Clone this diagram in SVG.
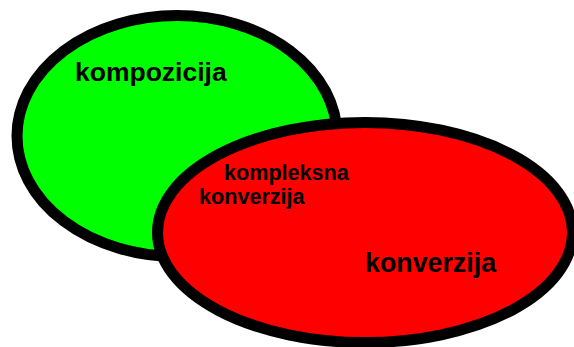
<svg xmlns="http://www.w3.org/2000/svg" width="574" height="347" viewBox="0 0 574 347">
<style>
.set{stroke:#000;stroke-width:11}
.lbl{font-family:"Liberation Sans",Arial,sans-serif;font-weight:bold;fill:#000}
</style>
<rect width="574" height="347" fill="#fff"/>
<g id="kompozicija">
<ellipse class="set" cx="177" cy="136" rx="160" ry="120.5" fill="#00ff00"/>
<text class="lbl" x="75" y="81" font-size="26.5">kompozicija</text>
</g>
<g id="konverzija">
<ellipse class="set" cx="365" cy="232.5" rx="207.5" ry="110" fill="#ff0000"/>
<text class="lbl" x="365" y="272" font-size="26.8">konverzija</text>
</g>
<g id="kompleksna-konverzija">
<text class="lbl" x="224" y="180" font-size="21.6">kompleksna</text>
<text class="lbl" x="199" y="204" font-size="21.6">konverzija</text>
</g>
<g id="connectors"/>
</svg>
